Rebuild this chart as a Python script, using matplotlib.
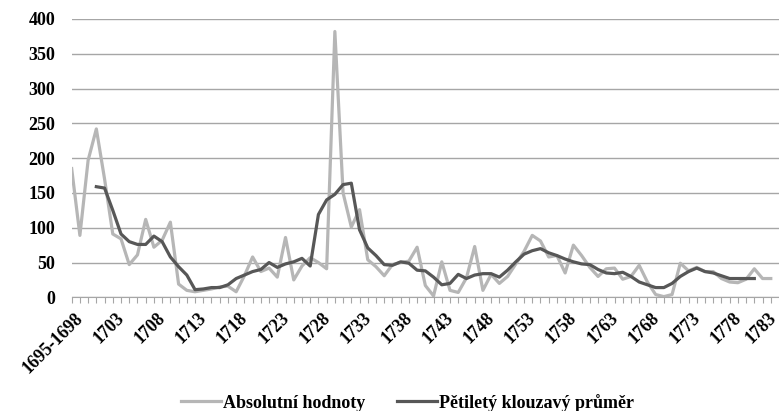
import matplotlib
matplotlib.use('Agg')
import matplotlib.pyplot as plt
import matplotlib.transforms as mtransforms

# categories: first one is an aggregate, then single years 1699..1783
years = ['1695-1698'] + [str(y) for y in range(1699, 1784)]

absolute = [185, 89, 197, 242, 170, 91, 84, 47, 61, 112,
            72, 82, 108, 19, 10, 8, 10, 12, 15, 16,
            8, 31, 58, 37, 42, 29, 86, 25, 45, 57,
            50, 41, 382, 150, 101, 126, 54, 44, 31, 47,
            50, 52, 72, 17, 2, 51, 10, 7, 28, 73,
            10, 33, 20, 30, 48, 66, 89, 81, 58, 60,
            35, 75, 60, 43, 30, 41, 42, 26, 30, 46,
            22, 4, 1, 4, 49, 38, 43, 37, 37, 27,
            22, 21, 26, 41, 27, 27]

# five-year moving average, available from index 3 to index 83
ma_start = 3
moving_avg = [159, 157, 125, 91, 80, 76, 76, 88, 80, 58,
              44, 32, 11, 12, 14, 14, 18, 27, 32, 37,
              40, 50, 43, 48, 51, 56, 45, 119, 140, 148,
              162, 164, 97, 71, 60, 47, 46, 51, 49, 39,
              38, 29, 18, 20, 33, 27, 32, 34, 34, 29,
              39, 51, 62, 67, 70, 64, 60, 55, 51, 48,
              47, 40, 35, 34, 36, 30, 22, 18, 14, 14,
              20, 30, 37, 42, 37, 35, 31, 27, 27, 27,
              27]

legend_labels = ['Absolutní hodnoty', 'Pětiletý klouzavý průměr']

plt.rcParams['font.family'] = ['Liberation Serif', 'DejaVu Serif']
plt.rcParams['font.weight'] = 'bold'

fig = plt.figure(figsize=(7.79, 4.11), dpi=100)
ax = fig.add_axes([0.092, 0.2766, 0.908, 0.6772])

x_abs = list(range(len(absolute)))
x_ma = list(range(ma_start, ma_start + len(moving_avg)))

ax.plot(x_abs, absolute, color='#b6b6b6', linewidth=2.3, label=legend_labels[0])
ax.plot(x_ma, moving_avg, color='#575757', linewidth=2.3, label=legend_labels[1])

ax.set_xlim(0, 86.0)
ax.set_ylim(0, 400)
ax.set_yticks(range(0, 401, 50))
ax.yaxis.grid(True, color='#a6a6a6', linewidth=1)
ax.set_axisbelow(True)

for side in ['top', 'right', 'left']:
    ax.spines[side].set_visible(False)
ax.spines['bottom'].set_color('#a6a6a6')

ax.set_xticks(x_abs)
ax.set_xticklabels([lab if i % 5 == 0 else '' for i, lab in enumerate(years)],
                   rotation=45, ha='right', va='top', rotation_mode='anchor',
                   fontsize=13, fontweight='bold')
ax.tick_params(axis='x', length=4, color='#a6a6a6', pad=5)
ax.tick_params(axis='y', length=0, pad=12, labelsize=13)

# nudge rotated labels slightly right, like the original; keep the last one inside
shift = mtransforms.ScaledTranslation(3 / 100, 0, fig.dpi_scale_trans)
back = mtransforms.ScaledTranslation(-3 / 100, 0, fig.dpi_scale_trans)
labels = ax.get_xticklabels()
for lab in labels[:-1]:
    lab.set_transform(lab.get_transform() + shift)
labels[-1].set_transform(labels[-1].get_transform() + back)

fig.legend(loc='center', bbox_to_anchor=(0.523, 0.02), ncol=2, frameon=False,
           prop={'size': 13, 'weight': 'bold'}, handlelength=2.2, columnspacing=1.8,
           handletextpad=0.1, borderpad=0, borderaxespad=0)

fig.savefig('out.png', dpi=100)
